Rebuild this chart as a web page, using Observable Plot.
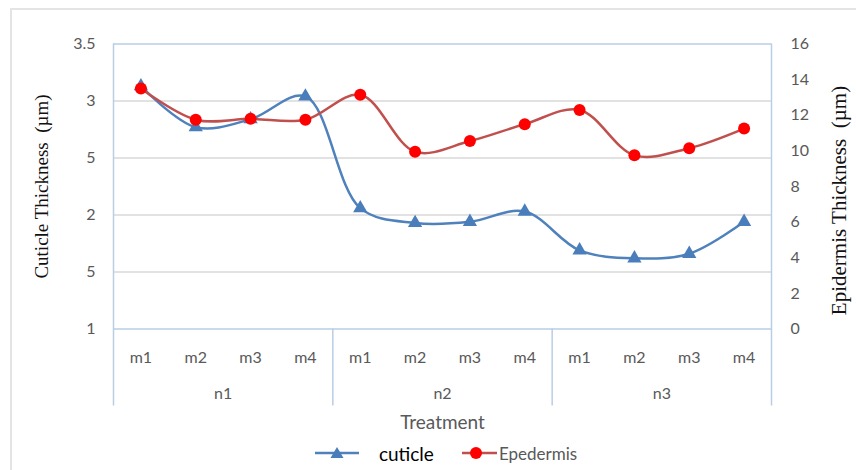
<!DOCTYPE html>
<html><head><meta charset="utf-8">
<script src="https://cdn.jsdelivr.net/npm/d3@7"></script>
<script src="https://cdn.jsdelivr.net/npm/@observablehq/plot@0.6"></script>
<style>
body{margin:0;background:#fff;}
#wrap{position:relative;width:856px;height:470px;overflow:hidden;background:#fff;}
#frame{position:absolute;left:10px;top:8px;width:900px;height:500px;border-left:2px solid #e4e4e4;border-top:2px solid #e4e4e4;}
#chart{position:absolute;left:0;top:0;}
#legend{position:absolute;left:0;top:436px;width:856px;height:34px;display:flex;align-items:center;justify-content:center;padding-left:36px;box-sizing:border-box;font-family:Lato,sans-serif;}
.item{display:flex;align-items:center;}
</style></head><body>
<div id="wrap"><div id="frame"></div><div id="chart"></div><div id="legend"></div></div>
<script>
// ---- data ----
const categories = ["m1","m2","m3","m4","m1","m2","m3","m4","m1","m2","m3","m4"];
const groupOf    = ["n1","n1","n1","n1","n2","n2","n2","n2","n3","n3","n3","n3"];
const groups = ["n1","n2","n3"];
const cuticle   = [3.13, 2.77, 2.84, 3.04, 2.06, 1.93, 1.94, 2.03, 1.69, 1.62, 1.66, 1.94];
const epidermis = [13.5, 11.75, 11.8, 11.75, 13.15, 9.95, 10.55, 11.5, 12.3, 9.75, 10.15, 11.25];
const leftTicks = [1, 1.5, 2, 2.5, 3, 3.5];
const leftTickLabels = ["1", "5", "2", "5", "3", "3.5"];
const rightTicks = [0, 2, 4, 6, 8, 10, 12, 14, 16];
const rightTickLabels = ["0","2","4","6","8","10","12","14","16"];
const seriesNames = ["cuticle", "Epedermis"];
const xTitle = "Treatment";
const yLeftTitle = "Cuticle Thickness  (\u00b5m)";
const yRightTitle = "Epidermis Thickness  (\u00b5m)";

// ---- derived ----
const leftMin = 1, leftMax = 3.5, rightMin = 0, rightMax = 16;
const toLeft = v => leftMin + (v - rightMin) / (rightMax - rightMin) * (leftMax - leftMin);
const idx = categories.map((_, i) => i);
const cutData = idx.map(i => ({i, v: cuticle[i]}));
const epiData = idx.map(i => ({i, v: toLeft(epidermis[i])}));
const groupData = groups.map(g => ({g, x: d3.mean(idx.filter(i => groupOf[i] === g))}));
const boundaries = groups.slice(0, -1).map(g => d3.max(idx.filter(i => groupOf[i] === g)) + 0.5);
const rightTickPos = rightTicks.map(toLeft);

const blue = "#4a7ebb", blueLine = "#4f81bd", red = "#ff0000", redLine = "#c0504d";
const axisBlue = "#b9cde5", grid = "#d9d9d9", labelGrey = "#595959";

const chart = Plot.plot({
  width: 856, height: 436,
  marginTop: 43.5, marginBottom: 107.5, marginLeft: 113, marginRight: 85,
  x: {domain: [-0.5, categories.length - 0.5], axis: null},
  y: {domain: [leftMin, leftMax], axis: null},
  style: {fontFamily: "Lato, sans-serif", fontSize: "16px", color: labelGrey, background: "transparent", overflow: "visible"},
  marks: [
    Plot.ruleY(leftTicks.filter(t => t > leftMin && t < leftMax), {stroke: grid, strokeWidth: 1.3}),
    Plot.ruleY([leftMin, leftMax], {stroke: axisBlue, strokeWidth: 1.5}),
    Plot.ruleX([-0.5, categories.length - 0.5], {y1: leftMax, y2: leftMin, insetBottom: -77, stroke: axisBlue, strokeWidth: 1.5}),
    Plot.ruleX(boundaries, {y1: leftMin, y2: leftMin, insetBottom: -77, stroke: axisBlue, strokeWidth: 1.5}),
    Plot.axisY({ticks: leftTicks, tickFormat: d => leftTickLabels[leftTicks.indexOf(d)], tickSize: 0, tickPadding: 18, label: null}),
    Plot.axisY({anchor: "right", ticks: rightTickPos, tickFormat: d => rightTickLabels[rightTickPos.indexOf(d)], tickSize: 0, tickPadding: 19, label: null}),
    Plot.axisX({ticks: idx, tickFormat: d => categories[d], tickSize: 0, tickPadding: 23, label: null}),
    Plot.text(groupData, {x: "x", text: "g", frameAnchor: "bottom", dy: 70}),
    Plot.text([xTitle], {frameAnchor: "bottom", dy: 100, fontSize: 19}),
    Plot.text([yLeftTitle], {frameAnchor: "left", textAnchor: "middle", dx: -72, rotate: -90, fontFamily: "Liberation Serif", fontSize: 19, fill: "#111"}),
    Plot.text([yRightTitle], {frameAnchor: "right", textAnchor: "middle", dx: 68, dy: 14, rotate: -90, fontFamily: "Liberation Serif", fontSize: 21, fill: "#111"}),
    Plot.line(cutData, {x: "i", y: "v", curve: "catmull-rom", stroke: blueLine, strokeWidth: 2.5}),
    Plot.dot(cutData, {x: "i", y: "v", symbol: "triangle", r: 5.3, fill: blue}),
    Plot.line(epiData, {x: "i", y: "v", curve: "catmull-rom", stroke: redLine, strokeWidth: 2.5}),
    Plot.dot(epiData, {x: "i", y: "v", r: 6, fill: red})
  ]
});
document.getElementById("chart").appendChild(chart);

// ---- legend ----
const legend = document.getElementById("legend");
legend.innerHTML = `
<div class="item">
  <svg width="44" height="16"><line x1="0" y1="8" x2="44" y2="8" stroke="${blueLine}" stroke-width="2.5"/><path d="M22,2 L28.5,13 L15.5,13 Z" fill="${blue}"/></svg>
  <span style="margin-left:20px;font-size:19px;color:#000">${seriesNames[0]}</span>
</div>
<div class="item" style="margin-left:28px">
  <svg width="35" height="16"><line x1="0" y1="8" x2="35" y2="8" stroke="${redLine}" stroke-width="2.5"/><circle cx="14" cy="8" r="6" fill="${red}"/></svg>
  <span style="margin-left:2px;font-size:17px;color:${labelGrey}">${seriesNames[1]}</span>
</div>`;
</script>
</body></html>
